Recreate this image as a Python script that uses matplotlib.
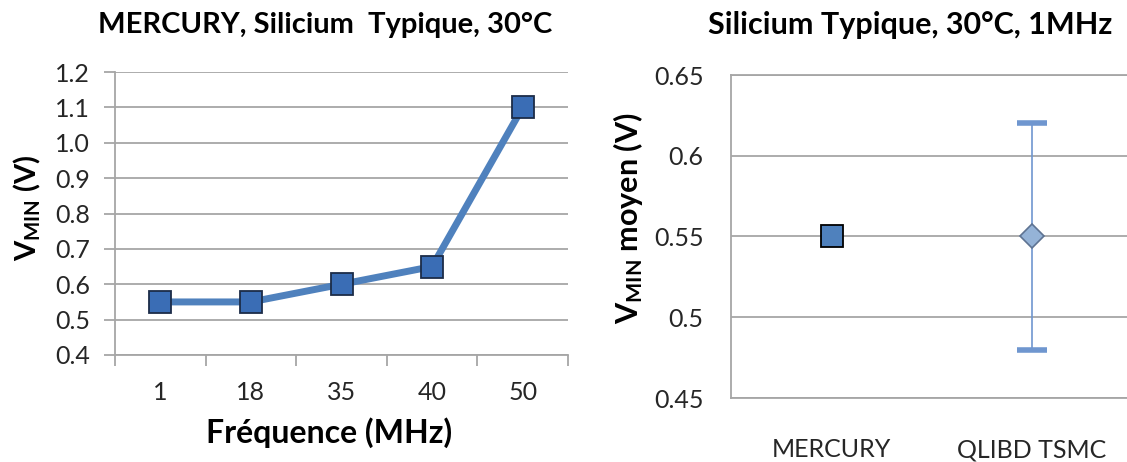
import numpy as np
import matplotlib
matplotlib.use("Agg")
import matplotlib.pyplot as plt
from matplotlib.ticker import FixedLocator, FormatStrFormatter, FuncFormatter

# data
freq_labels = ["1", "18", "35", "40", "50"]
vmin_freq = [0.55, 0.55, 0.60, 0.65, 1.10]

lib_names = ["MERCURY", "QLIBD TSMC"]
vmin_mean = [0.55, 0.55]
err_low = [0.0, 0.07]
err_high = [0.0, 0.07]

plt.rcParams['font.family'] = ['Lato', 'DejaVu Sans']
plt.rcParams['mathtext.fontset'] = 'custom'
plt.rcParams['mathtext.rm'] = 'Lato'
plt.rcParams['mathtext.bf'] = 'Lato:bold'

W, H = 1127, 462
fig = plt.figure(figsize=(W / 100, H / 100), dpi=100)

grid_col = '#A6A6A6'
text_col = '#262626'
tick_fs = 18
label_fs = 22
title_fs = 21

# left chart: vmin vs frequency
ax1 = fig.add_axes([115 / W, 1 - 355 / H, 453 / W, 283 / H])
x = np.arange(len(freq_labels))
ax1.plot(x, vmin_freq, color='#4F81BD', lw=5, zorder=3,
         marker='s', markersize=16, markerfacecolor='#3A6DB5',
         markeredgecolor='#1C2C48', markeredgewidth=1.3)
ax1.set_xlim(-0.5, len(freq_labels) - 0.5)
ax1.set_ylim(0.4, 1.2)
ax1.set_yticks(np.arange(0.4, 1.21, 0.1))
ax1.yaxis.set_major_formatter(FormatStrFormatter('%.1f'))
ax1.set_xticks(x)
ax1.set_xticklabels(freq_labels)
ax1.xaxis.set_minor_locator(FixedLocator(np.arange(-0.5, len(freq_labels), 1.0)))
ax1.tick_params(axis='x', which='major', length=0, pad=19, labelsize=tick_fs, labelcolor=text_col)
ax1.tick_params(axis='x', which='minor', length=8, width=1.3, color=grid_col, direction='out')
ax1.tick_params(axis='y', length=8, width=1.3, color=grid_col, pad=10, labelsize=tick_fs, labelcolor=text_col)
ax1.grid(axis='y', color=grid_col, lw=1.3)
for s in ['top', 'right']:
    ax1.spines[s].set_visible(False)
for s in ['left', 'bottom']:
    ax1.spines[s].set_color(grid_col)
    ax1.spines[s].set_linewidth(1.3)
ax1.set_axisbelow(True)
ax1.set_xlabel('Fréquence (MHz)', fontsize=23, fontweight='bold', color='black')
ax1.xaxis.set_label_coords((329 - 115) / 453, -78 / 283)
ax1.xaxis.label.set_va('center')
ax1.set_ylabel(r'$\mathbf{V_{MIN}}$ (V)', fontsize=21, fontweight='bold', color='black')
ax1.yaxis.set_label_coords((27 - 115) / 453, (355 - 208) / 283)
ax1.yaxis.label.set_va('center')
fig.text(325 / W, 1 - 25 / H, 'MERCURY, Silicium  Typique, 30°C', ha='center', va='center',
         fontsize=title_fs, fontweight='bold', color='black')

# right chart: mean vmin per library
ax2 = fig.add_axes([731.5 / W, 1 - 398 / H, 400 / W, 323 / H])
pos = np.arange(1, len(lib_names) + 1)
ax2.plot(pos[0], vmin_mean[0], ls='none', marker='s', markersize=16.5,
         markerfacecolor='#4F81BD', markeredgecolor='black', markeredgewidth=1.3, zorder=4)
eb = ax2.errorbar(pos[1], vmin_mean[1], yerr=[[err_low[1]], [err_high[1]]], fmt='none',
                  ecolor='#6F96CF', elinewidth=1.2, capsize=11, capthick=4, zorder=3)
for cap in eb[1]:
    cap.set_color('#95B3D7')
ax2.plot(pos[1], vmin_mean[1], ls='none', marker='D', markersize=12.5,
         markerfacecolor='#95B3D7', markeredgecolor='#5E7392', markeredgewidth=1.2, zorder=4)
ax2.set_xlim(0.5, 2.5)
ax2.set_ylim(0.45, 0.65)
ax2.set_yticks(np.arange(0.45, 0.651, 0.05))
ax2.yaxis.set_major_formatter(FuncFormatter(lambda v, p: '%g' % round(v, 2)))
ax2.set_xticks(pos)
ax2.set_xticklabels(lib_names)
ax2.tick_params(axis='x', length=0, pad=29, labelsize=tick_fs, labelcolor=text_col)
ax2.tick_params(axis='y', length=0, pad=20, labelsize=tick_fs, labelcolor=text_col)
ax2.grid(axis='y', color=grid_col, lw=1.3)
ax2.set_axisbelow(True)
for s in ax2.spines.values():
    s.set_color(grid_col)
    s.set_linewidth(1.3)
ax2.set_ylabel(r'$\mathbf{V_{MIN}}$ moyen (V)', fontsize=label_fs, fontweight='bold', color='black')
ax2.yaxis.set_label_coords((628 - 731.5) / 400, (398 - 218) / 323)
ax2.yaxis.label.set_va('center')
fig.text(910 / W, 1 - 25 / H, 'Silicium Typique, 30°C, 1MHz', ha='center', va='center',
         fontsize=22, fontweight='bold', color='black')

fig.savefig('out.png', dpi=100)
